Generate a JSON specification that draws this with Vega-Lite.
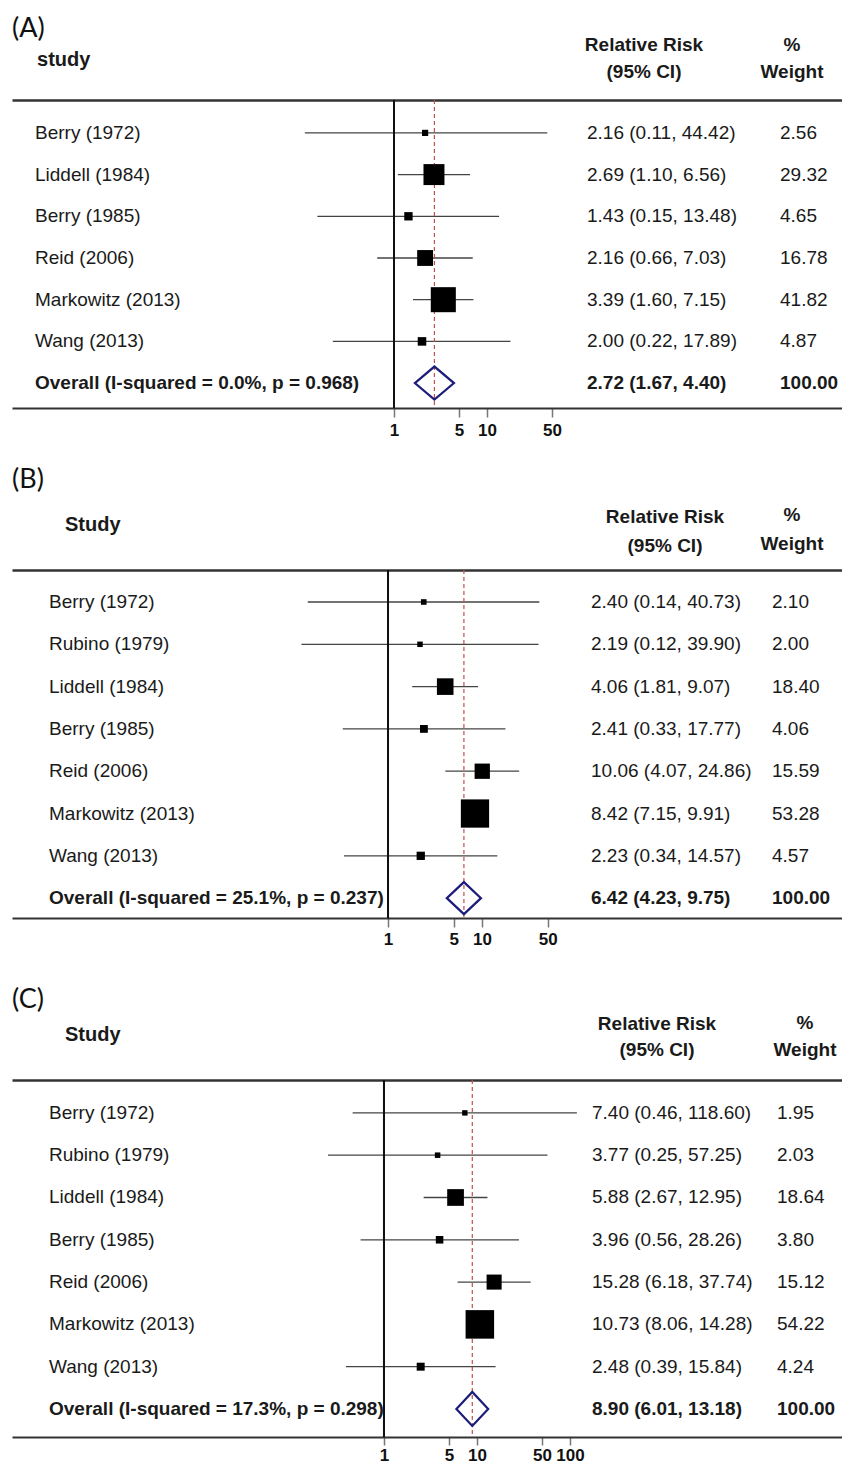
{
  "$schema": "https://vega.github.io/schema/vega-lite/v6.json",
  "padding": {"left": 12, "right": 0, "top": 0, "bottom": 0},
  "autosize": {"type": "pad"},
  "bounds": "flush",
  "spacing": 0,
  "config": {
    "view": {"stroke": null},
    "font": "Liberation Sans",
    "text": {"font": "Liberation Sans", "color": "#1a1a1a"}
  },
  "vconcat": [
    {
      "width": 830, "height": 100,
      "data": {"values": [{}]},
      "resolve": {"scale": {"y": "independent"}},
      "layer": [
        {"mark": {"type": "text", "align": "left", "baseline": "middle", "font": "Lato", "fontSize": 27, "color": "#111"},
         "encoding": {
           "x": {"datum": 7.806e-5, "type": "quantitative", "scale": {"type": "log", "domain": [7.806e-5, 65650], "nice": false}, "axis": null},
           "y": {"datum": "r", "type": "nominal", "scale": {"type": "point", "domain": ["r"], "align": 0.29}, "axis": null},
           "text": {"value": "(A)"}}},
        {"mark": {"type": "text", "align": "left", "baseline": "middle", "fontSize": 20, "fontWeight": "bold"},
         "encoding": {"x": {"datum": 1.45e-4, "type": "quantitative"}, "y": {"datum": "r", "type": "nominal", "scale": {"type": "point", "domain": ["r"], "align": 0.6}, "axis": null}, "text": {"value": "study"}}},
        {"mark": {"type": "text", "align": "center", "baseline": "middle", "fontSize": 19, "fontWeight": "bold", "lineHeight": 27},
         "encoding": {"x": {"datum": 487.6, "type": "quantitative"}, "y": {"datum": "r", "type": "nominal", "scale": {"type": "point", "domain": ["r"], "align": 0.45}, "axis": null}, "text": {"value": ["Relative Risk", "(95% CI)"]}}},
        {"mark": {"type": "text", "align": "center", "baseline": "middle", "fontSize": 19, "fontWeight": "bold", "lineHeight": 27},
         "encoding": {"x": {"datum": 19040, "type": "quantitative"}, "y": {"datum": "r", "type": "nominal", "scale": {"type": "point", "domain": ["r"], "align": 0.45}, "axis": null}, "text": {"value": ["%", "Weight"]}}}
      ]
    },
    {
      "width": 830, "height": 308,
      "data": {"values": [
        {"study": "Berry (1972)", "rr": 2.16, "lo": 0.11, "hi": 44.42, "w": 2.56, "ci": "2.16 (0.11, 44.42)"},
        {"study": "Liddell (1984)", "rr": 2.69, "lo": 1.10, "hi": 6.56, "w": 29.32, "ci": "2.69 (1.10, 6.56)"},
        {"study": "Berry (1985)", "rr": 1.43, "lo": 0.15, "hi": 13.48, "w": 4.65, "ci": "1.43 (0.15, 13.48)"},
        {"study": "Reid (2006)", "rr": 2.16, "lo": 0.66, "hi": 7.03, "w": 16.78, "ci": "2.16 (0.66, 7.03)"},
        {"study": "Markowitz (2013)", "rr": 3.39, "lo": 1.60, "hi": 7.15, "w": 41.82, "ci": "3.39 (1.60, 7.15)"},
        {"study": "Wang (2013)", "rr": 2.00, "lo": 0.22, "hi": 17.89, "w": 4.87, "ci": "2.00 (0.22, 17.89)"},
        {"study": "Overall (I-squared = 0.0%, p = 0.968)", "rr": 2.72, "lo": 1.67, "hi": 4.40, "w": 100.00, "ci": "2.72 (1.67, 4.40)"}
      ]},
      "resolve": {"axis": {"x": "independent"}},
      "layer": [
        {"mark": {"type": "rule", "color": "#444", "strokeWidth": 1.3},
         "transform": [{"filter": "datum.w < 100"}],
         "encoding": {
           "x": {"field": "lo", "type": "quantitative", "scale": {"type": "log", "domain": [7.806e-5, 65650], "nice": false},
                 "axis": {"orient": "bottom", "values": [1, 5, 10, 50], "format": "d", "title": null, "grid": false, "domainColor": "#333", "domainWidth": 2, "tickColor": "#777", "tickWidth": 1.5, "tickSize": 9, "labelFontSize": 17, "labelFontWeight": "bold", "labelColor": "#111", "labelPadding": 5, "labelOverlap": false, "labelFlush": false}},
           "x2": {"field": "hi"},
           "y": {"field": "study", "type": "nominal", "scale": {"type": "point", "domain": ["Berry (1972)", "Liddell (1984)", "Berry (1985)", "Reid (2006)", "Markowitz (2013)", "Wang (2013)", "Overall (I-squared = 0.0%, p = 0.968)"], "padding": 0.693, "align": 0.569}, "axis": null}}},
        {"mark": {"type": "rule", "color": "#111", "strokeWidth": 2},
         "encoding": {"x": {"datum": 1, "type": "quantitative", "axis": null}}},
        {"mark": {"type": "rule", "color": "#c0504d", "strokeWidth": 1.2, "strokeDash": [4, 3]},
         "transform": [{"filter": "datum.w == 100"}],
         "encoding": {"x": {"field": "rr", "type": "quantitative", "axis": {"orient": "top", "labels": false, "ticks": false, "grid": false, "title": null, "domainColor": "#333", "domainWidth": 2.5}}}},
        {"mark": {"type": "point", "shape": "square", "filled": true, "color": "#000", "opacity": 1},
         "transform": [{"filter": "datum.w < 100"}],
         "encoding": {
           "x": {"field": "rr", "type": "quantitative", "axis": null},
           "y": {"field": "study", "type": "nominal", "axis": null},
           "size": {"field": "w", "type": "quantitative", "scale": {"domain": [0, 100], "range": [0, 1500]}, "legend": null}}},
        {"mark": {"type": "point", "shape": "M-1,0L0,-0.846L1,0L0,0.846Z", "filled": false, "stroke": "#1c1c7a", "strokeWidth": 2.2, "size": 1529, "opacity": 1},
         "transform": [{"filter": "datum.w == 100"}],
         "encoding": {"x": {"field": "rr", "type": "quantitative", "axis": null}, "y": {"field": "study", "type": "nominal", "axis": null}}},
        {"mark": {"type": "text", "align": "left", "baseline": "middle", "fontSize": 19},
         "transform": [{"filter": "datum.w < 100"}],
         "encoding": {"x": {"datum": 1.379e-4, "type": "quantitative", "axis": null}, "y": {"field": "study", "type": "nominal", "axis": null}, "text": {"field": "study"}}},
        {"mark": {"type": "text", "align": "left", "baseline": "middle", "fontSize": 19, "fontWeight": "bold"},
         "transform": [{"filter": "datum.w == 100"}],
         "encoding": {"x": {"datum": 1.379e-4, "type": "quantitative", "axis": null}, "y": {"field": "study", "type": "nominal", "axis": null}, "text": {"field": "study"}}},
        {"mark": {"type": "text", "align": "left", "baseline": "middle", "fontSize": 19},
         "transform": [{"filter": "datum.w < 100"}],
         "encoding": {"x": {"datum": 118.9, "type": "quantitative", "axis": null}, "y": {"field": "study", "type": "nominal", "axis": null}, "text": {"field": "ci"}}},
        {"mark": {"type": "text", "align": "left", "baseline": "middle", "fontSize": 19, "fontWeight": "bold"},
         "transform": [{"filter": "datum.w == 100"}],
         "encoding": {"x": {"datum": 118.9, "type": "quantitative", "axis": null}, "y": {"field": "study", "type": "nominal", "axis": null}, "text": {"field": "ci"}}},
        {"mark": {"type": "text", "align": "left", "baseline": "middle", "fontSize": 19},
         "transform": [{"filter": "datum.w < 100"}],
         "encoding": {"x": {"datum": 14145, "type": "quantitative", "axis": null}, "y": {"field": "study", "type": "nominal", "axis": null}, "text": {"field": "w", "type": "quantitative", "format": ".2f"}}},
        {"mark": {"type": "text", "align": "left", "baseline": "middle", "fontSize": 19, "fontWeight": "bold"},
         "transform": [{"filter": "datum.w == 100"}],
         "encoding": {"x": {"datum": 14145, "type": "quantitative", "axis": null}, "y": {"field": "study", "type": "nominal", "axis": null}, "text": {"field": "w", "type": "quantitative", "format": ".2f"}}}
      ]
    },
    {
      "width": 830, "height": 162,
      "data": {"values": [{}]},
      "resolve": {"scale": {"y": "independent"}},
      "layer": [
        {"mark": {"type": "text", "align": "left", "baseline": "middle", "font": "Lato", "fontSize": 27, "color": "#111"},
         "encoding": {
           "x": {"datum": 1e-4, "type": "quantitative", "scale": {"type": "log", "domain": [1e-4, 67560], "nice": false}, "axis": null},
           "y": {"datum": "r", "type": "nominal", "scale": {"type": "point", "domain": ["r"], "align": 0.4444}, "axis": null},
           "text": {"value": "(B)"}}},
        {"mark": {"type": "text", "align": "left", "baseline": "middle", "fontSize": 20, "fontWeight": "bold"},
         "encoding": {"x": {"datum": 3.664e-4, "type": "quantitative"}, "y": {"datum": "r", "type": "nominal", "scale": {"type": "point", "domain": ["r"], "align": 0.7222}, "axis": null}, "text": {"value": "Study"}}},
        {"mark": {"type": "text", "align": "center", "baseline": "middle", "fontSize": 19, "fontWeight": "bold", "lineHeight": 29},
         "encoding": {"x": {"datum": 884.6, "type": "quantitative"}, "y": {"datum": "r", "type": "nominal", "scale": {"type": "point", "domain": ["r"], "align": 0.6728}, "axis": null}, "text": {"value": ["Relative Risk", "(95% CI)"]}}},
        {"mark": {"type": "text", "align": "center", "baseline": "middle", "fontSize": 19, "fontWeight": "bold", "lineHeight": 29},
         "encoding": {"x": {"datum": 19860, "type": "quantitative"}, "y": {"datum": "r", "type": "nominal", "scale": {"type": "point", "domain": ["r"], "align": 0.6605}, "axis": null}, "text": {"value": ["%", "Weight"]}}}
      ]
    },
    {
      "width": 830, "height": 348,
      "data": {"values": [
        {"study": "Berry (1972)", "rr": 2.40, "lo": 0.14, "hi": 40.73, "w": 2.10, "ci": "2.40 (0.14, 40.73)"},
        {"study": "Rubino (1979)", "rr": 2.19, "lo": 0.12, "hi": 39.90, "w": 2.00, "ci": "2.19 (0.12, 39.90)"},
        {"study": "Liddell (1984)", "rr": 4.06, "lo": 1.81, "hi": 9.07, "w": 18.40, "ci": "4.06 (1.81, 9.07)"},
        {"study": "Berry (1985)", "rr": 2.41, "lo": 0.33, "hi": 17.77, "w": 4.06, "ci": "2.41 (0.33, 17.77)"},
        {"study": "Reid (2006)", "rr": 10.06, "lo": 4.07, "hi": 24.86, "w": 15.59, "ci": "10.06 (4.07, 24.86)"},
        {"study": "Markowitz (2013)", "rr": 8.42, "lo": 7.15, "hi": 9.91, "w": 53.28, "ci": "8.42 (7.15, 9.91)"},
        {"study": "Wang (2013)", "rr": 2.23, "lo": 0.34, "hi": 14.57, "w": 4.57, "ci": "2.23 (0.34, 14.57)"},
        {"study": "Overall (I-squared = 25.1%, p = 0.237)", "rr": 6.42, "lo": 4.23, "hi": 9.75, "w": 100.00, "ci": "6.42 (4.23, 9.75)"}
      ]},
      "resolve": {"axis": {"x": "independent"}},
      "layer": [
        {"mark": {"type": "rule", "color": "#444", "strokeWidth": 1.3},
         "transform": [{"filter": "datum.w < 100"}],
         "encoding": {
           "x": {"field": "lo", "type": "quantitative", "scale": {"type": "log", "domain": [1e-4, 67560], "nice": false},
                 "axis": {"orient": "bottom", "values": [1, 5, 10, 50], "format": "d", "title": null, "grid": false, "domainColor": "#333", "domainWidth": 2, "tickColor": "#777", "tickWidth": 1.5, "tickSize": 9, "labelFontSize": 17, "labelFontWeight": "bold", "labelColor": "#111", "labelPadding": 4, "labelOverlap": false, "labelFlush": false}},
           "x2": {"field": "hi"},
           "y": {"field": "study", "type": "nominal", "scale": {"type": "point", "domain": ["Berry (1972)", "Rubino (1979)", "Liddell (1984)", "Berry (1985)", "Reid (2006)", "Markowitz (2013)", "Wang (2013)", "Overall (I-squared = 25.1%, p = 0.237)"], "padding": 0.613, "align": 0.617}, "axis": null}}},
        {"mark": {"type": "rule", "color": "#111", "strokeWidth": 2},
         "encoding": {"x": {"datum": 1, "type": "quantitative", "axis": null}}},
        {"mark": {"type": "rule", "color": "#c0504d", "strokeWidth": 1.2, "strokeDash": [4, 3]},
         "transform": [{"filter": "datum.w == 100"}],
         "encoding": {"x": {"field": "rr", "type": "quantitative", "axis": {"orient": "top", "labels": false, "ticks": false, "grid": false, "title": null, "domainColor": "#333", "domainWidth": 2.5}}}},
        {"mark": {"type": "point", "shape": "square", "filled": true, "color": "#000", "opacity": 1},
         "transform": [{"filter": "datum.w < 100"}],
         "encoding": {
           "x": {"field": "rr", "type": "quantitative", "axis": null},
           "y": {"field": "study", "type": "nominal", "axis": null},
           "size": {"field": "w", "type": "quantitative", "scale": {"domain": [0, 100], "range": [0, 1900]}, "legend": null}}},
        {"mark": {"type": "point", "shape": "M-1,0L0,-0.94L1,0L0,0.94Z", "filled": false, "stroke": "#1c1c7a", "strokeWidth": 2.2, "size": 1163, "opacity": 1},
         "transform": [{"filter": "datum.w == 100"}],
         "encoding": {"x": {"field": "rr", "type": "quantitative", "axis": null}, "y": {"field": "study", "type": "nominal", "axis": null}}},
        {"mark": {"type": "text", "align": "left", "baseline": "middle", "fontSize": 19},
         "transform": [{"filter": "datum.w < 100"}],
         "encoding": {"x": {"datum": 2.475e-4, "type": "quantitative", "axis": null}, "y": {"field": "study", "type": "nominal", "axis": null}, "text": {"field": "study"}}},
        {"mark": {"type": "text", "align": "left", "baseline": "middle", "fontSize": 19, "fontWeight": "bold"},
         "transform": [{"filter": "datum.w == 100"}],
         "encoding": {"x": {"datum": 2.475e-4, "type": "quantitative", "axis": null}, "y": {"field": "study", "type": "nominal", "axis": null}, "text": {"field": "study"}}},
        {"mark": {"type": "text", "align": "left", "baseline": "middle", "fontSize": 19},
         "transform": [{"filter": "datum.w < 100"}],
         "encoding": {"x": {"datum": 144.4, "type": "quantitative", "axis": null}, "y": {"field": "study", "type": "nominal", "axis": null}, "text": {"field": "ci"}}},
        {"mark": {"type": "text", "align": "left", "baseline": "middle", "fontSize": 19, "fontWeight": "bold"},
         "transform": [{"filter": "datum.w == 100"}],
         "encoding": {"x": {"datum": 144.4, "type": "quantitative", "axis": null}, "y": {"field": "study", "type": "nominal", "axis": null}, "text": {"field": "ci"}}},
        {"mark": {"type": "text", "align": "left", "baseline": "middle", "fontSize": 19},
         "transform": [{"filter": "datum.w < 100"}],
         "encoding": {"x": {"datum": 12170, "type": "quantitative", "axis": null}, "y": {"field": "study", "type": "nominal", "axis": null}, "text": {"field": "w", "type": "quantitative", "format": ".2f"}}},
        {"mark": {"type": "text", "align": "left", "baseline": "middle", "fontSize": 19, "fontWeight": "bold"},
         "transform": [{"filter": "datum.w == 100"}],
         "encoding": {"x": {"datum": 12170, "type": "quantitative", "axis": null}, "y": {"field": "study", "type": "nominal", "axis": null}, "text": {"field": "w", "type": "quantitative", "format": ".2f"}}}
      ]
    },
    {
      "width": 830, "height": 162,
      "data": {"values": [{}]},
      "resolve": {"scale": {"y": "independent"}},
      "layer": [
        {"mark": {"type": "text", "align": "left", "baseline": "middle", "font": "Lato", "fontSize": 27, "color": "#111"},
         "encoding": {
           "x": {"datum": 1e-4, "type": "quantitative", "scale": {"type": "log", "domain": [1e-4, 84090], "nice": false}, "axis": null},
           "y": {"datum": "r", "type": "nominal", "scale": {"type": "point", "domain": ["r"], "align": 0.5062}, "axis": null},
           "text": {"value": "(C)"}}},
        {"mark": {"type": "text", "align": "left", "baseline": "middle", "fontSize": 20, "fontWeight": "bold"},
         "encoding": {"x": {"datum": 3.715e-4, "type": "quantitative"}, "y": {"datum": "r", "type": "nominal", "scale": {"type": "point", "domain": ["r"], "align": 0.7222}, "axis": null}, "text": {"value": "Study"}}},
        {"mark": {"type": "text", "align": "center", "baseline": "middle", "fontSize": 19, "fontWeight": "bold", "lineHeight": 26},
         "encoding": {"x": {"datum": 862.0, "type": "quantitative"}, "y": {"datum": "r", "type": "nominal", "scale": {"type": "point", "domain": ["r"], "align": 0.6543}, "axis": null}, "text": {"value": ["Relative Risk", "(95% CI)"]}}},
        {"mark": {"type": "text", "align": "center", "baseline": "middle", "fontSize": 19, "fontWeight": "bold", "lineHeight": 27},
         "encoding": {"x": {"datum": 33640, "type": "quantitative"}, "y": {"datum": "r", "type": "nominal", "scale": {"type": "point", "domain": ["r"], "align": 0.6481}, "axis": null}, "text": {"value": ["%", "Weight"]}}}
      ]
    },
    {
      "width": 830, "height": 357,
      "data": {"values": [
        {"study": "Berry (1972)", "rr": 7.40, "lo": 0.46, "hi": 118.60, "w": 1.95, "ci": "7.40 (0.46, 118.60)"},
        {"study": "Rubino (1979)", "rr": 3.77, "lo": 0.25, "hi": 57.25, "w": 2.03, "ci": "3.77 (0.25, 57.25)"},
        {"study": "Liddell (1984)", "rr": 5.88, "lo": 2.67, "hi": 12.95, "w": 18.64, "ci": "5.88 (2.67, 12.95)"},
        {"study": "Berry (1985)", "rr": 3.96, "lo": 0.56, "hi": 28.26, "w": 3.80, "ci": "3.96 (0.56, 28.26)"},
        {"study": "Reid (2006)", "rr": 15.28, "lo": 6.18, "hi": 37.74, "w": 15.12, "ci": "15.28 (6.18, 37.74)"},
        {"study": "Markowitz (2013)", "rr": 10.73, "lo": 8.06, "hi": 14.28, "w": 54.22, "ci": "10.73 (8.06, 14.28)"},
        {"study": "Wang (2013)", "rr": 2.48, "lo": 0.39, "hi": 15.84, "w": 4.24, "ci": "2.48 (0.39, 15.84)"},
        {"study": "Overall (I-squared = 17.3%, p = 0.298)", "rr": 8.90, "lo": 6.01, "hi": 13.18, "w": 100.00, "ci": "8.90 (6.01, 13.18)"}
      ]},
      "resolve": {"axis": {"x": "independent"}},
      "layer": [
        {"mark": {"type": "rule", "color": "#444", "strokeWidth": 1.3},
         "transform": [{"filter": "datum.w < 100"}],
         "encoding": {
           "x": {"field": "lo", "type": "quantitative", "scale": {"type": "log", "domain": [1e-4, 84090], "nice": false},
                 "axis": {"orient": "bottom", "values": [1, 5, 10, 50, 100], "format": "d", "title": null, "grid": false, "domainColor": "#333", "domainWidth": 2, "tickColor": "#777", "tickWidth": 1.5, "tickSize": 8, "labelFontSize": 17, "labelFontWeight": "bold", "labelColor": "#111", "labelPadding": 2, "labelOverlap": false, "labelFlush": false}},
           "x2": {"field": "hi"},
           "y": {"field": "study", "type": "nominal", "scale": {"type": "point", "domain": ["Berry (1972)", "Rubino (1979)", "Liddell (1984)", "Berry (1985)", "Reid (2006)", "Markowitz (2013)", "Wang (2013)", "Overall (I-squared = 17.3%, p = 0.298)"], "padding": 0.72, "align": 0.54}, "axis": null}}},
        {"mark": {"type": "rule", "color": "#111", "strokeWidth": 2},
         "encoding": {"x": {"datum": 1, "type": "quantitative", "axis": null}}},
        {"mark": {"type": "rule", "color": "#c0504d", "strokeWidth": 1.2, "strokeDash": [4, 3]},
         "transform": [{"filter": "datum.w == 100"}],
         "encoding": {"x": {"field": "rr", "type": "quantitative", "axis": {"orient": "top", "labels": false, "ticks": false, "grid": false, "title": null, "domainColor": "#333", "domainWidth": 2.5}}}},
        {"mark": {"type": "point", "shape": "square", "filled": true, "color": "#000", "opacity": 1},
         "transform": [{"filter": "datum.w < 100"}],
         "encoding": {
           "x": {"field": "rr", "type": "quantitative", "axis": null},
           "y": {"field": "study", "type": "nominal", "axis": null},
           "size": {"field": "w", "type": "quantitative", "scale": {"domain": [0, 100], "range": [0, 1850]}, "legend": null}}},
        {"mark": {"type": "point", "shape": "M-1,0L0,-1.07L1,0L0,1.07Z", "filled": false, "stroke": "#1c1c7a", "strokeWidth": 2.2, "size": 1011, "opacity": 1},
         "transform": [{"filter": "datum.w == 100"}],
         "encoding": {"x": {"field": "rr", "type": "quantitative", "axis": null}, "y": {"field": "study", "type": "nominal", "axis": null}}},
        {"mark": {"type": "text", "align": "left", "baseline": "middle", "fontSize": 19},
         "transform": [{"filter": "datum.w < 100"}],
         "encoding": {"x": {"datum": 2.499e-4, "type": "quantitative", "axis": null}, "y": {"field": "study", "type": "nominal", "axis": null}, "text": {"field": "study"}}},
        {"mark": {"type": "text", "align": "left", "baseline": "middle", "fontSize": 19, "fontWeight": "bold"},
         "transform": [{"filter": "datum.w == 100"}],
         "encoding": {"x": {"datum": 2.499e-4, "type": "quantitative", "axis": null}, "y": {"field": "study", "type": "nominal", "axis": null}, "text": {"field": "study"}}},
        {"mark": {"type": "text", "align": "left", "baseline": "middle", "fontSize": 19},
         "transform": [{"filter": "datum.w < 100"}],
         "encoding": {"x": {"datum": 172.4, "type": "quantitative", "axis": null}, "y": {"field": "study", "type": "nominal", "axis": null}, "text": {"field": "ci"}}},
        {"mark": {"type": "text", "align": "left", "baseline": "middle", "fontSize": 19, "fontWeight": "bold"},
         "transform": [{"filter": "datum.w == 100"}],
         "encoding": {"x": {"datum": 172.4, "type": "quantitative", "axis": null}, "y": {"field": "study", "type": "nominal", "axis": null}, "text": {"field": "ci"}}},
        {"mark": {"type": "text", "align": "left", "baseline": "middle", "fontSize": 19},
         "transform": [{"filter": "datum.w < 100"}],
         "encoding": {"x": {"datum": 16820, "type": "quantitative", "axis": null}, "y": {"field": "study", "type": "nominal", "axis": null}, "text": {"field": "w", "type": "quantitative", "format": ".2f"}}},
        {"mark": {"type": "text", "align": "left", "baseline": "middle", "fontSize": 19, "fontWeight": "bold"},
         "transform": [{"filter": "datum.w == 100"}],
         "encoding": {"x": {"datum": 16820, "type": "quantitative", "axis": null}, "y": {"field": "study", "type": "nominal", "axis": null}, "text": {"field": "w", "type": "quantitative", "format": ".2f"}}}
      ]
    }
  ]
}
